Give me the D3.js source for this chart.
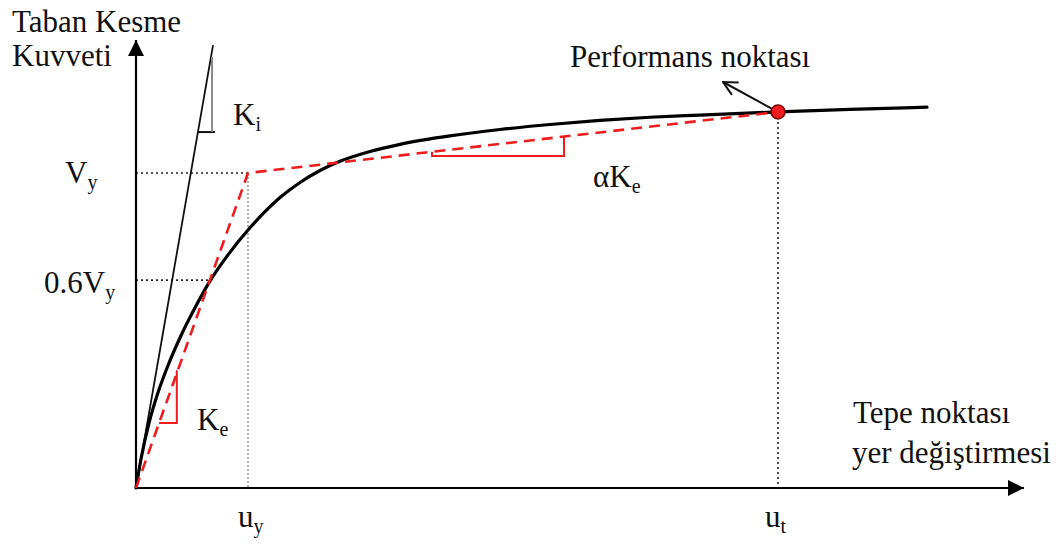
<!DOCTYPE html>
<html>
<head>
<meta charset="utf-8">
<script src="https://cdn.jsdelivr.net/npm/d3@7"></script>
<style>
  html, body { margin: 0; padding: 0; background: #fff; }
  svg { display: block; }
  text { font-family: "Liberation Serif", "Times New Roman", serif; fill: #111; }
</style>
</head>
<body>
<svg id="chart" width="1058" height="547"></svg>
<script>
// Pushover (capacity) curve: base shear vs. roof displacement
const capacityU = [0, 0.625, 1.625, 2.75, 4.0, 5.5, 7.375, 9.125, 11.5, 14.0, 16.125, 18.0, 20.5, 23.0, 25.5, 29.25, 33.0, 39.25, 45.5, 51.75, 58.0, 64.25, 70.5, 80.25, 89.25, 98.875];
const capacityV = [0, 9.2, 20.6, 30.3, 38.9, 47.7, 57.2, 65.2, 74.0, 81.9, 87.7, 92.2, 97.0, 100.8, 103.7, 106.8, 109.1, 111.8, 113.8, 115.4, 116.7, 117.7, 118.4, 119.4, 120.2, 120.9];

// Idealized bilinear curve: origin -> yield point -> performance point
const bilinearU = [0, 14.0, 80.25];
const bilinearV = [0, 100, 119.4];

// Initial stiffness line
const initialU = [0, 9.63];
const initialV = [0, 140.6];

// Reference levels on the axes
const yTickLabels = ["V", "0.6V"];
const yTickSubs = ["y", "y"];
const yTickValues = [100, 66];
const xTickLabels = ["u", "u"];
const xTickSubs = ["y", "t"];
const xTickValues = [14.0, 80.25];

const svg = d3.select("#chart");

const x = d3.scaleLinear().domain([0, 110]).range([136, 1016]);
const y = d3.scaleLinear().domain([0, 140]).range([488, 47]);

const FS = 31, SUB = 20;

// Arrowheads
const defs = svg.append("defs");
defs.append("marker").attr("id", "solidArrow")
  .attr("viewBox", "0 0 16 16").attr("refX", 16).attr("refY", 8)
  .attr("markerWidth", 16).attr("markerHeight", 16).attr("markerUnits", "userSpaceOnUse")
  .attr("orient", "auto")
  .append("path").attr("d", "M0,0 L16,8 L0,16 Z").attr("fill", "#000");
defs.append("marker").attr("id", "openArrow")
  .attr("viewBox", "0 0 16 16").attr("refX", 15).attr("refY", 8)
  .attr("markerWidth", 16).attr("markerHeight", 16).attr("markerUnits", "userSpaceOnUse")
  .attr("orient", "auto")
  .append("path").attr("d", "M1,1 L15,8 L1,15").attr("fill", "none")
  .attr("stroke", "#111").attr("stroke-width", 2);

// Reference (dotted) lines
yTickValues.forEach((v, i) => {
  const uEnd = i === 0 ? bilinearU[1] : 9.2;
  svg.append("line")
    .attr("x1", x(0)).attr("x2", x(uEnd)).attr("y1", y(v)).attr("y2", y(v))
    .attr("stroke", "#222").attr("stroke-width", 1.6).attr("stroke-dasharray", "2,3");
});
svg.append("line")
  .attr("x1", x(xTickValues[0])).attr("x2", x(xTickValues[0]))
  .attr("y1", y(bilinearV[1])).attr("y2", y(0))
  .attr("stroke", "#999").attr("stroke-width", 1.6).attr("stroke-dasharray", "2,2");
svg.append("line")
  .attr("x1", x(xTickValues[1])).attr("x2", x(xTickValues[1]))
  .attr("y1", y(bilinearV[2])).attr("y2", y(0))
  .attr("stroke", "#222").attr("stroke-width", 1.6).attr("stroke-dasharray", "2,3");

// Axes with arrows
svg.append("line")
  .attr("x1", x(0)).attr("y1", y(0)).attr("x2", x(0)).attr("y2", 40)
  .attr("stroke", "#000").attr("stroke-width", 2.2).attr("marker-end", "url(#solidArrow)");
svg.append("line")
  .attr("x1", x(0)).attr("y1", y(0)).attr("x2", 1024).attr("y2", y(0))
  .attr("stroke", "#000").attr("stroke-width", 2.2).attr("marker-end", "url(#solidArrow)");

// Initial stiffness line Ki
const straight = d3.line().x(d => x(d[0])).y(d => y(d[1]));
svg.append("path")
  .datum(d3.zip(initialU, initialV))
  .attr("d", straight)
  .attr("fill", "none").attr("stroke", "#111").attr("stroke-width", 1.8);

// Ki slope triangle
const kiSlope = initialV[1] / initialU[1];
const kiLow = 113, kiU2 = 9.5;
svg.append("line")
  .attr("x1", x(kiLow / kiSlope)).attr("x2", x(kiU2) + 3).attr("y1", y(kiLow)).attr("y2", y(kiLow))
  .attr("stroke", "#111").attr("stroke-width", 2);
svg.append("line")
  .attr("x1", x(kiU2)).attr("x2", x(kiU2)).attr("y1", y(kiLow)).attr("y2", y(kiU2 * kiSlope) + 6)
  .attr("stroke", "#8a8a8a").attr("stroke-width", 2);

// Capacity curve
const smooth = d3.line().x(d => x(d[0])).y(d => y(d[1])).curve(d3.curveMonotoneX);
svg.append("path")
  .datum(d3.zip(capacityU, capacityV))
  .attr("d", smooth)
  .attr("fill", "none").attr("stroke", "#000").attr("stroke-width", 3.2)
  .attr("stroke-linecap", "round");

// Bilinear idealization (red dashed)
svg.append("path")
  .datum(d3.zip(bilinearU, bilinearV))
  .attr("d", straight)
  .attr("fill", "none").attr("stroke", "#ee1c1c").attr("stroke-width", 2.6)
  .attr("stroke-dasharray", "11,7");

// Ke slope triangle
const keSlope = bilinearV[1] / bilinearU[1];
const keLow = 20.6, keU2 = 5.1;
svg.append("path")
  .attr("d", `M${x(keLow / keSlope)},${y(keLow)} L${x(keU2)},${y(keLow)} L${x(keU2)},${y(keU2 * keSlope) - 3}`)
  .attr("fill", "none").attr("stroke", "#ee1c1c").attr("stroke-width", 2);

// alpha*Ke slope triangle on the post-yield branch
const postSlope = (bilinearV[2] - bilinearV[1]) / (bilinearU[2] - bilinearU[1]);
const post = u => bilinearV[1] + (u - bilinearU[1]) * postSlope;
const aU1 = 37.0, aU2 = 53.5, aDrop = 1.3;
svg.append("path")
  .attr("d", `M${x(aU1)},${y(post(aU1))} L${x(aU1)},${y(post(aU1) - aDrop)} L${x(aU2)},${y(post(aU1) - aDrop)} L${x(aU2)},${y(post(aU2))}`)
  .attr("fill", "none").attr("stroke", "#ee1c1c").attr("stroke-width", 2);

// Performance point with pointer arrow
const px = x(bilinearU[2]), py = y(bilinearV[2]);
svg.append("line")
  .attr("x1", px - 4).attr("y1", py - 2).attr("x2", 723).attr("y2", 82)
  .attr("stroke", "#111").attr("stroke-width", 2).attr("marker-end", "url(#openArrow)");
svg.append("circle")
  .attr("cx", px).attr("cy", py).attr("r", 7)
  .attr("fill", "#ee1c1c").attr("stroke", "#7a0000").attr("stroke-width", 1.5);

// Text helper: main text with subscript
function label(xp, yp, main, sub) {
  const t = svg.append("text").attr("x", xp).attr("y", yp).attr("font-size", FS);
  t.append("tspan").text(main);
  if (sub) t.append("tspan").attr("font-size", SUB).attr("dy", 6).text(sub);
  return t;
}

// Axis titles
label(12, 32, "Taban Kesme");
label(12, 66, "Kuvveti");
label(853, 423, "Tepe noktası");
label(852, 463, "yer değiştirmesi");

// Level labels on the y axis
const yLabelX = [65, 44];
const yLabelDy = [10, 13];
yTickValues.forEach((v, i) => label(yLabelX[i], y(v) + yLabelDy[i], yTickLabels[i], yTickSubs[i]));

// Displacement labels under the x axis
xTickValues.forEach((v, i) => label(x(v) - 10 - (i === 0 ? 0 : 3), 527, xTickLabels[i], xTickSubs[i]));

// Stiffness labels
label(233, 125, "K", "i");
label(197, 430, "K", "e");
label(593, 187, "αK", "e");
label(570, 67, "Performans noktası");
</script>
</body>
</html>
